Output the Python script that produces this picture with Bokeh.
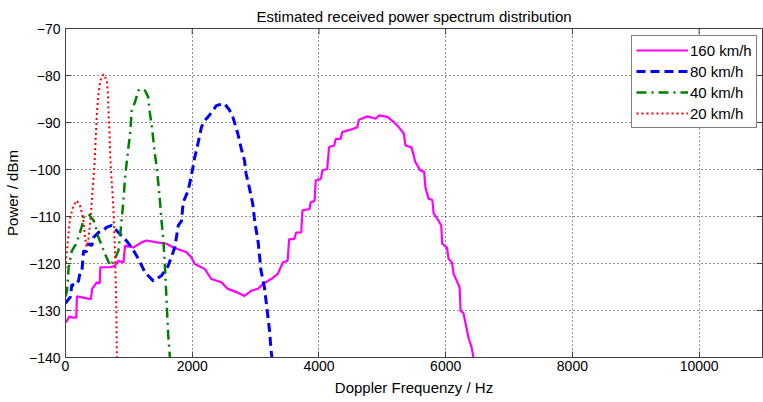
import math
from bokeh.plotting import figure
from bokeh.models import Range1d, FixedTicker, Legend, LegendItem
from bokeh.embed import file_html
from bokeh.resources import INLINE

# ---------------- data ----------------
x_ticks = [0, 2000, 4000, 6000, 8000, 10000]
y_ticks = [-140, -130, -120, -110, -100, -90, -80, -70]
x_min, x_max = 0, 11000
y_min, y_max = -140, -70

f160 = [0, 24, 60, 120, 170, 180, 300, 400, 420, 495, 540, 550, 700, 780, 835, 915, 940,
        1070, 1200, 1280, 1440, 1595, 1700, 1910, 1987, 2040, 2200, 2300, 2460, 2560,
        2720, 2825, 2930, 3035, 3115, 3245, 3350, 3430, 3505, 3530, 3610, 3640, 3720,
        3740, 3850, 3870, 3930, 3950, 4030, 4055, 4130, 4160, 4240, 4265, 4340, 4370,
        4450, 4530, 4605, 4630, 4765, 4895, 4945, 5080, 5180, 5260, 5340, 5365, 5460,
        5495, 5520, 5600, 5660, 5680, 5730, 5790, 5810, 5870, 5930, 5945, 6020, 6045,
        6100, 6125, 6175, 6220, 6235, 6280, 6305, 6360, 6410, 6445]
p160 = [-132.5, -132.2, -131.3, -131.5, -131.5, -127.0, -127.3, -127.6, -125.4, -124.0,
        -124.2, -120.8, -120.8, -120.5, -119.4, -119.8, -116.2, -116.6, -115.5, -115.1,
        -115.5, -115.8, -116.6, -117.6, -118.7, -120.1, -121.2, -123.3, -124.0, -125.4,
        -126.2, -126.9, -125.8, -125.4, -124.4, -123.3, -122.2, -119.8, -119.4, -114.8,
        -114.8, -113.4, -113.4, -108.7, -108.4, -107.0, -106.7, -102.3, -102.0, -100.2,
        -99.9, -95.2, -94.9, -93.5, -93.5, -92.0, -91.7, -91.4, -91.0, -89.4, -88.7,
        -89.2, -88.5, -88.8, -89.9, -91.0, -92.4, -94.9, -95.3, -97.0, -98.4, -100.2,
        -100.5, -103.8, -106.2, -106.5, -109.4, -110.5, -111.9, -115.8, -116.6, -119.0,
        -119.8, -122.2, -123.7, -125.1, -130.1, -130.5, -132.2, -135.8, -137.9, -140.5]

f80 = [0, 24, 75, 100, 155, 205, 230, 260, 285, 330, 365, 415, 440, 520, 600, 647, 730,
       835, 940, 1045, 1150, 1255, 1385, 1515, 1620, 1725, 1780, 1830, 1857, 1935, 1987,
       2040, 2090, 2145, 2195, 2250, 2330, 2380, 2460, 2510, 2590, 2640, 2720, 2775,
       2825, 2850, 2905, 2955, 2980, 3010, 3035, 3060, 3085, 3140, 3190, 3220, 3245, 3262]
p80 = [-128.5, -128.0, -127.2, -124.5, -124.7, -123.7, -121.9, -121.5, -117.3, -117.5,
       -115.8, -116.2, -114.5, -113.4, -113.0, -112.3, -111.9, -113.4, -114.8, -116.6,
       -119.0, -121.9, -123.7, -122.6, -120.5, -116.6, -111.9, -111.0, -107.0, -104.5,
       -101.3, -97.4, -94.5, -91.0, -89.6, -88.8, -87.4, -86.4, -86.1, -86.0, -87.4,
       -88.8, -92.4, -95.6, -98.1, -100.9, -104.1, -107.3, -110.2, -113.0, -114.8,
       -118.0, -121.5, -125.1, -130.8, -134.3, -138.6, -140.5]

f40 = [0, 24, 50, 100, 160, 205, 260, 285, 365, 445, 520, 625, 705, 780, 835, 870, 890,
       915, 940, 990, 1020, 1045, 1095, 1150, 1200, 1255, 1305, 1330, 1360, 1385, 1410,
       1440, 1465, 1490, 1515, 1545, 1570, 1595, 1620, 1650]
p40 = [-127.0, -125.8, -120.8, -117.3, -116.0, -114.4, -112.0, -110.2, -109.5, -110.9,
       -114.4, -118.0, -120.5, -119.0, -117.3, -113.0, -110.2, -106.6, -101.6, -95.6,
       -92.4, -87.4, -85.7, -83.2, -82.8, -83.2, -84.6, -87.8, -90.6, -93.5, -96.7,
       -99.5, -103.0, -106.6, -110.9, -115.1, -120.8, -127.9, -135.0, -140.5]

f20 = [0, 20, 45, 70, 125, 175, 230, 280, 305, 330, 360, 385, 410, 430, 455, 470, 485,
       495, 520, 550, 600, 650, 670, 680, 695, 705, 720, 740, 755, 780, 800, 810, 815]
p20 = [-121.0, -117.6, -114.0, -110.5, -107.7, -106.6, -107.7, -110.5, -114.1, -116.5,
       -115.0, -112.0, -107.7, -103.8, -99.5, -95.2, -91.0, -88.1, -83.9, -81.0, -79.7,
       -81.0, -83.9, -88.1, -92.4, -96.7, -100.9, -104.5, -108.0, -117.3, -127.9,
       -139.3, -140.5]

series = [
    ("160 km/h", f160, p160, "#ff00ff", "solid", 2.2),
    ("80 km/h", f80, p80, "#0000ff", "9 5", 3),
    ("40 km/h", f40, p40, "#008000", "10 5 2 5", 2.5),
    ("20 km/h", f20, p20, "#ff0000", "2 3", 2),
]

FONT = "Liberation Sans"
AXIS_COL = "#404040"

p = figure(width=763, height=402, output_backend="svg", toolbar_location=None,
           x_range=Range1d(x_min, x_max), y_range=Range1d(y_min, y_max),
           min_border_left=63, min_border_right=1, min_border_top=28, min_border_bottom=45,
           title="Estimated received power spectrum distribution")
p.title.align = "center"
p.title.vertical_align = "bottom"
p.title.text_font = FONT
p.title.text_font_size = "15px"
p.title.text_font_style = "normal"
p.title.text_color = "#000000"
p.title.standoff = 8

p.outline_line_color = AXIS_COL
p.outline_line_width = 1
p.background_fill_color = "white"
p.border_fill_color = "white"

for ax in [p.xaxis[0], p.yaxis[0]]:
    ax.major_label_text_font = FONT
    ax.major_label_text_font_size = "14px"
    ax.major_label_text_color = "#000000"
    ax.axis_label_text_font = FONT
    ax.axis_label_text_font_size = "15px"
    ax.axis_label_text_font_style = "normal"
    ax.axis_label_text_color = "#000000"
    ax.major_tick_in = 6
    ax.major_tick_out = 0
    ax.minor_tick_in = 0
    ax.minor_tick_out = 0
    ax.axis_line_color = AXIS_COL
    ax.major_tick_line_color = AXIS_COL

p.xaxis[0].ticker = FixedTicker(ticks=x_ticks)
p.yaxis[0].ticker = FixedTicker(ticks=y_ticks)
p.xaxis[0].axis_label = "Doppler Frequenzy / Hz"
p.yaxis[0].axis_label = "Power / dBm"
p.xaxis[0].major_label_standoff = 3
p.xaxis[0].axis_label_standoff = 5
p.yaxis[0].major_label_standoff = 5
p.yaxis[0].axis_label_standoff = 5

# inward ticks on the top and right edges of the box (clipped half-dashes)
p.scatter(x=x_ticks, y=[y_max] * len(x_ticks), marker="dash", size=12,
          angle=math.pi / 2, line_color=AXIS_COL, line_width=1)
p.scatter(x=[x_max] * len(y_ticks), y=y_ticks, marker="dash", size=12,
          line_color=AXIS_COL, line_width=1)

for g in [p.xgrid[0], p.ygrid[0]]:
    g.grid_line_color = "#000000"
    g.grid_line_dash = "1 3"
    g.grid_line_width = 1
    g.grid_line_alpha = 0.85
p.xgrid[0].ticker = FixedTicker(ticks=x_ticks)
p.ygrid[0].ticker = FixedTicker(ticks=y_ticks)

items = []
for name, xs, ys, col, dash, w in series:
    r = p.line(xs, ys, line_color=col, line_width=w, line_dash=dash)
    items.append(LegendItem(label=name, renderers=[r]))

legend = Legend(items=items, location=(566, 229), margin=0,
                label_text_font=FONT, label_text_font_size="15px",
                label_text_color="#000000",
                border_line_color="#000000", border_line_width=1,
                background_fill_color="white", background_fill_alpha=1.0,
                padding=4, spacing=1, label_height=20, glyph_height=20,
                glyph_width=52, label_standoff=2)
p.add_layout(legend, "center")

open("out.html", "w").write(file_html(p, INLINE))
